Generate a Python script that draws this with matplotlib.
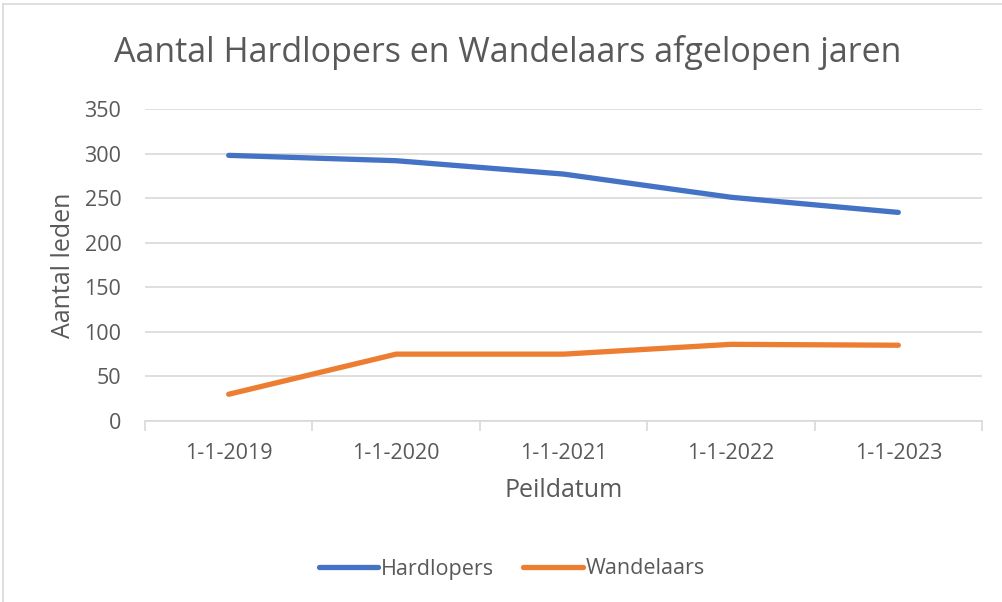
import matplotlib.pyplot as plt
from matplotlib.lines import Line2D

plt.rcParams['font.family'] = ['Open Sans', 'DejaVu Sans']

datums = ['1-1-2019', '1-1-2020', '1-1-2021', '1-1-2022', '1-1-2023']
hardlopers = [298, 292, 277, 251, 234]
wandelaars = [30, 75, 75, 86, 85]

W, H = 1002, 602
fig = plt.figure(figsize=(W / 100, H / 100), dpi=100)
# plot area in pixels: x 145..982, y 109..421
ax = fig.add_axes([145 / W, 1 - 421 / H, (982 - 145) / W, (421 - 109) / H])

grey = '#595959'
grid = '#d9d9d9'

x = list(range(len(datums)))
ax.plot(x, hardlopers, color='#4472C4', lw=3.8, solid_capstyle='round', label='Hardlopers')
ax.plot(x, wandelaars, color='#ED7D31', lw=3.8, solid_capstyle='round', label='Wandelaars')

ax.set_xlim(-0.5, len(datums) - 0.5)
ax.set_ylim(0, 350)
ax.set_yticks(range(0, 351, 50))
ax.set_xticks(x)
ax.set_xticklabels(datums)
ax.set_xticks([i - 0.5 for i in range(len(datums) + 1)], minor=True)

ax.yaxis.grid(True, color=grid, lw=1.2)
ax.set_axisbelow(True)
for s in ['top', 'right', 'left']:
    ax.spines[s].set_visible(False)
ax.spines['bottom'].set_color(grid)
ax.spines['bottom'].set_linewidth(1.2)

ax.tick_params(axis='y', length=0, pad=17, labelsize=15.5, labelcolor=grey)
ax.tick_params(axis='x', which='major', length=0, pad=16, labelsize=15.5, labelcolor=grey)
ax.tick_params(axis='x', which='minor', length=7, width=1.2, color=grid)

ax.set_ylabel('Aantal leden', fontsize=18, color=grey, labelpad=6)
ax.set_xlabel('Peildatum', fontsize=18, color=grey, labelpad=10)

fig.text(508 / W, 1 - 52 / H, 'Aantal Hardlopers en Wandelaars afgelopen jaren',
         ha='center', va='center', fontsize=24.5, color=grey)

fig.legend(loc='center', bbox_to_anchor=(512 / W, 1 - 569 / H), ncol=2, frameon=False,
           fontsize=15.5, labelcolor=grey, handlelength=2.75, handletextpad=0.15, columnspacing=1.35)

# chart border (partly outside image)
fig.add_artist(Line2D([3 / W, 1.0], [1 - 4 / H, 1 - 4 / H], color='#d9d9d9', lw=1.2))
fig.add_artist(Line2D([3 / W, 3 / W], [0, 1 - 4 / H], color='#d9d9d9', lw=1.2))

fig.savefig('out.png', dpi=100)
